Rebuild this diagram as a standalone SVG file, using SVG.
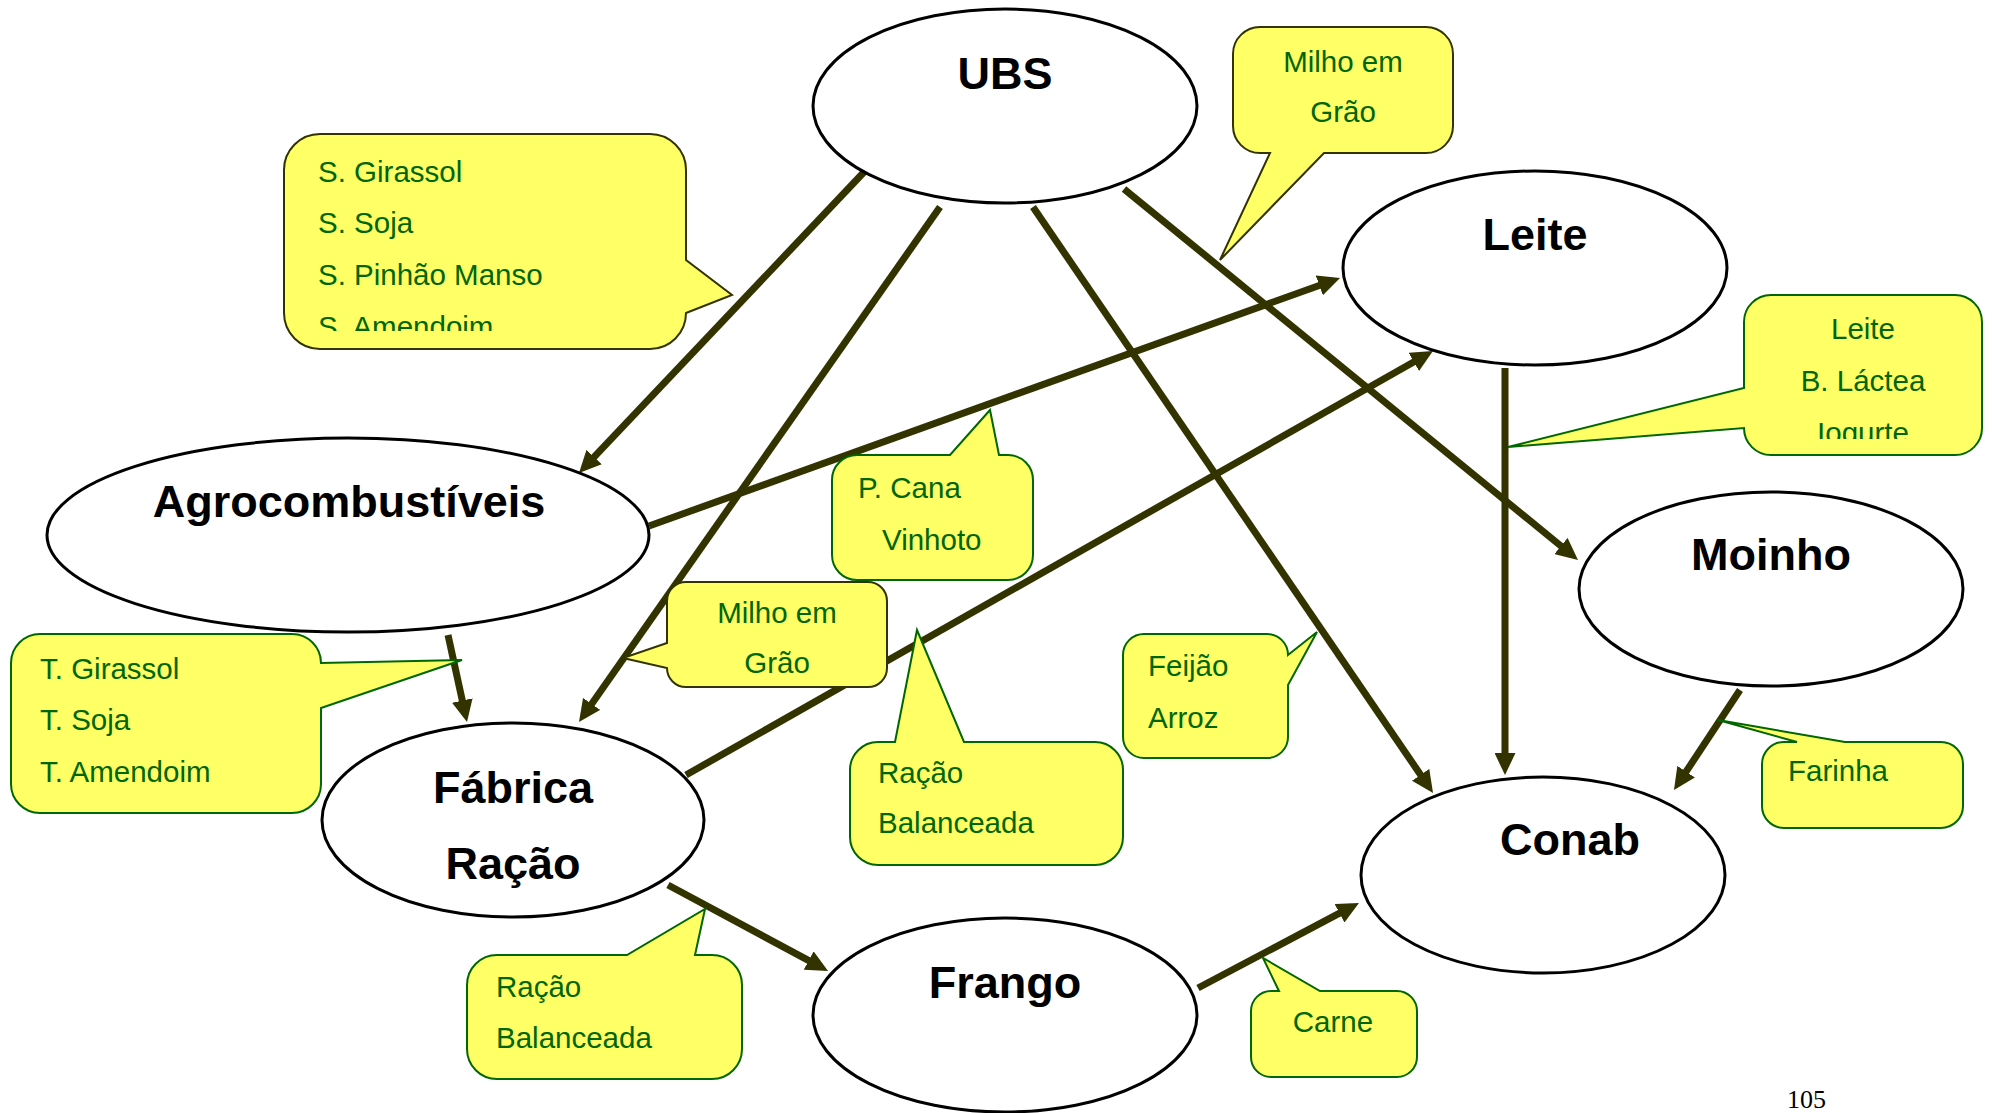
<svg xmlns="http://www.w3.org/2000/svg" width="1992" height="1113" viewBox="0 0 1992 1113">
<style>
.node{fill:#ffffff;stroke:#000000;stroke-width:3}
.nl{font-family:"Liberation Sans",Arial,sans-serif;font-weight:bold;font-size:45px;fill:#000000;text-anchor:middle}
.co{fill:#ffff66;stroke:#006600;stroke-width:2;stroke-linejoin:miter}
.co2{fill:#ffff66;stroke:#333300;stroke-width:2;stroke-linejoin:miter}
.ct{font-family:"Liberation Sans",Arial,sans-serif;font-size:29.5px;fill:#006600}
.mid{text-anchor:middle}
.edge{stroke:#333300;stroke-width:7;fill:none;marker-end:url(#ah)}
</style>
<defs>
<marker id="ah" markerUnits="userSpaceOnUse" viewBox="0 0 22 21" markerWidth="22" markerHeight="21" refX="14" refY="10.5" orient="auto">
<path d="M0,0 L22,10.5 L0,21 z" fill="#333300"/>
</marker>
<clipPath id="clipA"><rect x="284" y="134" width="402" height="197"/></clipPath>
<clipPath id="clipC"><rect x="1744" y="295" width="238" height="144"/></clipPath>
</defs>
<rect width="1992" height="1113" fill="#ffffff"/>
<g id="connectors">
<line class="edge" x1="865" y1="171" x2="584.5" y2="467.2"/>
<line class="edge" x1="940" y1="207" x2="583.6" y2="715.4"/>
<line class="edge" x1="1033" y1="207" x2="1428.5" y2="786.4"/>
<line class="edge" x1="1124" y1="189" x2="1571.8" y2="554.9"/>
<line class="edge" x1="649" y1="526" x2="1332.5" y2="280.7"/>
<line class="edge" x1="686" y1="775" x2="1426" y2="355"/>
<line class="edge" x1="448" y1="635" x2="465.3" y2="714.2"/>
<line class="edge" x1="1505" y1="368" x2="1505" y2="767"/>
<line class="edge" x1="1740" y1="690" x2="1678.4" y2="783.3"/>
<line class="edge" x1="668" y1="885" x2="821" y2="967.2"/>
<line class="edge" x1="1198" y1="988" x2="1351.9" y2="906.7"/>
</g>
<g id="node-ubs"><ellipse class="node" cx="1005" cy="106" rx="192" ry="97"/><text class="nl" x="1005" y="89">UBS</text></g>
<g id="node-leite"><ellipse class="node" cx="1535" cy="268" rx="192" ry="97"/><text class="nl" x="1535" y="250">Leite</text></g>
<g id="node-agro"><ellipse class="node" cx="348" cy="535" rx="301" ry="97"/><text class="nl" x="349" y="517">Agrocombustíveis</text></g>
<g id="node-moinho"><ellipse class="node" cx="1771" cy="589" rx="192" ry="97"/><text class="nl" x="1771" y="570">Moinho</text></g>
<g id="node-fabrica"><ellipse class="node" cx="513" cy="820" rx="191" ry="97"/><text class="nl" x="513" y="803">Fábrica</text><text class="nl" x="513" y="879">Ração</text></g>
<g id="node-conab"><ellipse class="node" cx="1543" cy="875" rx="182" ry="98"/><text class="nl" x="1570" y="855">Conab</text></g>
<g id="node-frango"><ellipse class="node" cx="1005" cy="1015" rx="192" ry="97"/><text class="nl" x="1005" y="998">Frango</text></g>
<g id="callout-sementes">
<path class="co2" d="M320,134 H650 A36,36 0 0 1 686,170 V260 L732,295 L686,313 A36,36 0 0 1 650,349 H320 A36,36 0 0 1 284,313 V170 A36,36 0 0 1 320,134 Z"/>
<g clip-path="url(#clipA)">
<text class="ct" x="318" y="182">S. Girassol</text>
<text class="ct" x="318" y="233">S. Soja</text>
<text class="ct" x="318" y="285">S. Pinhão Manso</text>
<text class="ct" x="318" y="337">S. Amendoim</text>
</g>
</g>
<g id="callout-milho-top">
<path class="co2" d="M1260,27 H1426 A27,27 0 0 1 1453,54 V126 A27,27 0 0 1 1426,153 H1324 L1220,260 L1270,153 H1260 A27,27 0 0 1 1233,126 V54 A27,27 0 0 1 1260,27 Z"/>
<text class="ct mid" x="1343" y="72">Milho em</text>
<text class="ct mid" x="1343" y="122">Grão</text>
</g>
<g id="callout-leite">
<path class="co" d="M1771,295 H1955 A27,27 0 0 1 1982,322 V428 A27,27 0 0 1 1955,455 H1771 A27,27 0 0 1 1744,428 L1508,447 L1744,388 V322 A27,27 0 0 1 1771,295 Z"/>
<g clip-path="url(#clipC)">
<text class="ct mid" x="1863" y="339">Leite</text>
<text class="ct mid" x="1863" y="391">B. Láctea</text>
<text class="ct mid" x="1863" y="443">Iogurte</text>
</g>
</g>
<g id="callout-tortas">
<path class="co" d="M40,634 H292 A29,29 0 0 1 321,663 L462,660 L321,708 V784 A29,29 0 0 1 292,813 H40 A29,29 0 0 1 11,784 V663 A29,29 0 0 1 40,634 Z"/>
<text class="ct" x="40" y="679">T. Girassol</text>
<text class="ct" x="40" y="730">T. Soja</text>
<text class="ct" x="40" y="782">T. Amendoim</text>
</g>
<g id="callout-cana">
<path class="co" d="M857,455 H950 L990,410 L999,455 H1008 A25,25 0 0 1 1033,480 V555 A25,25 0 0 1 1008,580 H857 A25,25 0 0 1 832,555 V480 A25,25 0 0 1 857,455 Z"/>
<text class="ct" x="858" y="498">P. Cana</text>
<text class="ct" x="882" y="550">Vinhoto</text>
</g>
<g id="callout-milho-mid">
<path class="co2" d="M686,582 H868 A19,19 0 0 1 887,601 V668 A19,19 0 0 1 868,687 H686 A19,19 0 0 1 667,668 L623,658 L667,643 V601 A19,19 0 0 1 686,582 Z"/>
<text class="ct mid" x="777" y="623">Milho em</text>
<text class="ct mid" x="777" y="673">Grão</text>
</g>
<g id="callout-racao-mid">
<path class="co" d="M878,742 H895 L917,630 L964,742 H1095 A28,28 0 0 1 1123,770 V837 A28,28 0 0 1 1095,865 H878 A28,28 0 0 1 850,837 V770 A28,28 0 0 1 878,742 Z"/>
<text class="ct" x="878" y="783">Ração</text>
<text class="ct" x="878" y="833">Balanceada</text>
</g>
<g id="callout-feijao">
<path class="co" d="M1144,634 H1267 A21,21 0 0 1 1288,655 L1317,632 L1288,685 V737 A21,21 0 0 1 1267,758 H1144 A21,21 0 0 1 1123,737 V655 A21,21 0 0 1 1144,634 Z"/>
<text class="ct" x="1148" y="676">Feijão</text>
<text class="ct" x="1148" y="728">Arroz</text>
</g>
<g id="callout-farinha">
<path class="co" d="M1784,742 H1797 L1718,720 L1845,742 H1941 A22,22 0 0 1 1963,764 V806 A22,22 0 0 1 1941,828 H1784 A22,22 0 0 1 1762,806 V764 A22,22 0 0 1 1784,742 Z"/>
<text class="ct" x="1788" y="781">Farinha</text>
</g>
<g id="callout-racao-bottom">
<path class="co" d="M497,955 H627 L705,909 L695,955 H712 A30,30 0 0 1 742,985 V1049 A30,30 0 0 1 712,1079 H497 A30,30 0 0 1 467,1049 V985 A30,30 0 0 1 497,955 Z"/>
<text class="ct" x="496" y="997">Ração</text>
<text class="ct" x="496" y="1048">Balanceada</text>
</g>
<g id="callout-carne">
<path class="co" d="M1271,991 H1279 L1263,958 L1320,991 H1397 A20,20 0 0 1 1417,1011 V1057 A20,20 0 0 1 1397,1077 H1271 A20,20 0 0 1 1251,1057 V1011 A20,20 0 0 1 1271,991 Z"/>
<text class="ct mid" x="1333" y="1032">Carne</text>
</g>
<text x="1787" y="1108" font-family="'Liberation Serif','Times New Roman',serif" font-size="26" fill="#000000">105</text>
</svg>
